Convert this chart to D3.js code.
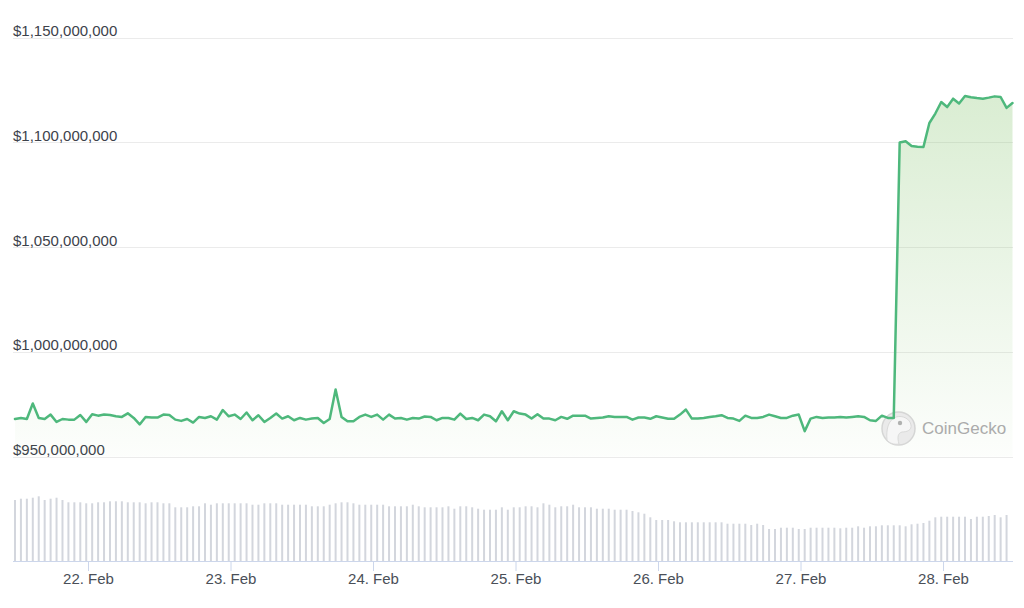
<!DOCTYPE html>
<html>
<head>
<meta charset="utf-8">
<script src="https://cdn.jsdelivr.net/npm/d3@7/dist/d3.min.js"></script>
<style>
  html, body { margin: 0; padding: 0; background: #ffffff; }
  svg { display: block; font-family: "Liberation Sans", Arial, Helvetica, sans-serif; }
</style>
</head>
<body>
<svg id="chart" width="1024" height="608"></svg>
<script>
// ---------- DATA ----------
// hourly series start (UTC)
const startTime = Date.UTC(2024, 1, 21, 11, 42);
const hourMs = 3600 * 1000;

// market cap, millions of USD (hourly)
const marketCapM = [
  967.9, 968.4, 967.9, 975.3, 968.4, 967.9, 970.0, 966.5, 967.9, 967.6,
  967.6, 969.8, 966.5, 970.2, 969.5, 970.0, 969.8, 969.2, 968.9, 970.6,
  968.4, 965.3, 968.9, 968.6, 968.6, 970.0, 969.8, 967.6, 967.0, 967.9,
  966.2, 968.9, 968.4, 969.2, 967.6, 972.2, 969.2, 970.0, 967.9, 971.0,
  967.3, 969.7, 966.5, 968.4, 970.5, 968.1, 969.2, 967.3, 968.4, 967.6,
  968.1, 968.4, 966.0, 967.9, 982.0, 968.9, 966.8, 966.8, 968.9, 970.0,
  968.9, 970.0, 967.6, 970.0, 968.1, 968.4, 967.6, 968.4, 968.1, 969.1,
  968.9, 967.3, 968.4, 968.4, 967.6, 970.5, 967.9, 968.4, 967.3, 970.0,
  969.2, 966.8, 971.6, 967.3, 971.6, 970.5, 970.0, 968.1, 970.2, 968.1,
  968.1, 967.3, 968.9, 968.0, 969.5, 969.5, 969.5, 968.1, 968.4, 968.6,
  969.2, 968.9, 968.9, 968.9, 967.6, 968.6, 968.6, 968.0, 969.2, 968.6,
  968.0, 968.0, 970.0, 972.4, 968.1, 968.1, 968.4, 968.9, 969.2, 969.7,
  968.4, 968.1, 967.0, 969.5, 968.4, 968.4, 968.9, 970.0, 969.2, 968.4,
  968.4, 969.5, 970.0, 962.1, 968.1, 968.9, 968.4, 968.6, 968.6, 968.9,
  968.6, 968.9, 969.2, 968.9, 967.3, 967.0, 969.5, 968.4, 968.4, 1099.9,
  1100.5, 1098.2, 1097.9, 1097.7, 1109.2, 1113.7, 1119.2, 1116.8, 1120.8, 1118.5,
  1122.1, 1121.5, 1121.1, 1120.8, 1121.3, 1121.9, 1121.6, 1116.4, 1118.7
];

// trading volume, millions of USD (hourly)
const volumeM = [
  61.0, 62.3, 62.3, 63.3, 64.7, 61.0, 62.3, 63.3, 61.0, 58.7,
  58.7, 58.7, 57.7, 57.7, 58.7, 58.7, 59.7, 59.7, 59.7, 58.7,
  58.7, 58.7, 57.7, 58.7, 58.7, 57.7, 57.7, 53.7, 53.7, 53.7,
  54.7, 54.7, 57.7, 56.3, 57.7, 57.7, 57.7, 57.7, 57.7, 57.7,
  56.3, 56.3, 57.7, 57.7, 57.7, 56.3, 56.3, 56.3, 56.3, 56.3,
  54.7, 54.7, 54.7, 56.3, 57.7, 58.7, 58.7, 57.7, 56.3, 56.3,
  56.3, 56.3, 56.3, 54.7, 54.7, 54.7, 54.7, 56.3, 54.7, 53.7,
  53.7, 53.7, 53.7, 54.7, 52.3, 54.7, 54.7, 53.7, 52.3, 51.3,
  51.3, 51.3, 53.7, 51.3, 53.7, 53.7, 54.7, 54.7, 53.7, 57.7,
  56.3, 53.7, 54.7, 54.7, 56.3, 53.7, 53.7, 53.7, 52.3, 52.3,
  52.3, 51.3, 51.3, 51.3, 50.0, 48.7, 47.3, 43.7, 41.0, 41.0,
  41.0, 39.7, 38.7, 38.7, 38.7, 38.7, 38.7, 38.7, 38.7, 38.7,
  37.3, 37.3, 37.3, 37.3, 36.0, 37.3, 36.0, 32.0, 32.0, 33.3,
  33.3, 33.3, 32.0, 32.0, 33.3, 33.3, 33.3, 33.3, 33.3, 32.7,
  33.3, 33.3, 34.7, 33.3, 34.7, 34.7, 35.7, 35.7, 35.7, 35.7,
  34.7, 36.7, 37.3, 38.0, 40.3, 43.7, 44.3, 44.3, 44.3, 44.3,
  44.3, 42.0, 44.3, 44.3, 45.0, 46.0, 43.7, 46.0
];

const yTickValues = [950e6, 1000e6, 1050e6, 1100e6, 1150e6];
const yTickLabels = ["$950,000,000", "$1,000,000,000", "$1,050,000,000", "$1,100,000,000", "$1,150,000,000"];
const xTickDates = [
  Date.UTC(2024, 1, 22), Date.UTC(2024, 1, 23), Date.UTC(2024, 1, 24),
  Date.UTC(2024, 1, 25), Date.UTC(2024, 1, 26), Date.UTC(2024, 1, 27),
  Date.UTC(2024, 1, 28)
];
const xTickLabels = ["22. Feb", "23. Feb", "24. Feb", "25. Feb", "26. Feb", "27. Feb", "28. Feb"];

// ---------- CHART ----------
const svg = d3.select("#chart");
const left = 13, right = 1013;
const priceTop = 37.5, priceBottom = 456.5;
const volBase = 561;

const x = d3.scaleUtc()
  .domain([Date.UTC(2024, 1, 21, 11, 22), Date.UTC(2024, 1, 28, 11, 47)])
  .range([left, right]);
const y = d3.scaleLinear().domain([950e6, 1150e6]).range([priceBottom, priceTop]);
const yVol = d3.scaleLinear().domain([0, 100]).range([volBase, volBase - 100]);

const priceData = marketCapM.map((v, i) => ({ t: startTime + i * hourMs, v: v * 1e6 }));
const volData = volumeM.map((v, i) => ({ t: startTime + i * hourMs, v: v }));

// gradient
const defs = svg.append("defs");
const grad = defs.append("linearGradient")
  .attr("id", "areaGrad")
  .attr("gradientUnits", "userSpaceOnUse")
  .attr("x1", 0).attr("x2", 0)
  .attr("y1", priceTop).attr("y2", priceBottom);
grad.append("stop").attr("offset", "0%").attr("stop-color", "rgb(125,192,100)").attr("stop-opacity", 0.33);
grad.append("stop").attr("offset", "100%").attr("stop-color", "rgb(125,192,100)").attr("stop-opacity", 0.02);

// gridlines
svg.append("g").selectAll("line")
  .data(yTickValues)
  .join("line")
  .attr("x1", left).attr("x2", right)
  .attr("y1", d => Math.round(y(d)) + 0.5)
  .attr("y2", d => Math.round(y(d)) + 0.5)
  .attr("stroke", "#ebebeb")
  .attr("stroke-width", 1);

// y labels
svg.append("g").selectAll("text")
  .data(yTickValues)
  .join("text")
  .attr("x", left)
  .attr("y", d => y(d) - 1.5)
  .attr("font-size", 15)
  .attr("fill", "#3d424b")
  .text((d, i) => yTickLabels[i]);

// area
const area = d3.area()
  .x(d => x(d.t))
  .y0(priceBottom)
  .y1(d => y(d.v));
svg.append("path")
  .datum(priceData)
  .attr("d", area)
  .attr("fill", "url(#areaGrad)");

// watermark
const wm = svg.append("g").attr("opacity", 0.9);
wm.append("circle").attr("cx", 898.5).attr("cy", 428.5).attr("r", 16.5)
  .attr("fill", "#e9e9e9").attr("stroke", "#d2d2d2").attr("stroke-width", 1.5);
wm.append("path")
  .attr("d", "M887,440 C886,430 888,420 896,417 C903,415 910,419 911,425 C912,430 907,432 902,432 C898,433 897,437 899,444 C894,445 889,443 887,440 Z")
  .attr("fill", "#f6f6f6").attr("stroke", "#d6d6d6").attr("stroke-width", 1);
wm.append("circle").attr("cx", 900).attr("cy", 423).attr("r", 2.2).attr("fill", "#a9a9a9");
wm.append("text").attr("x", 922).attr("y", 433.5)
  .attr("font-size", 17).attr("fill", "#a3a3a3").text("CoinGecko");

// line
const line = d3.line().x(d => x(d.t)).y(d => y(d.v));
svg.append("path")
  .datum(priceData)
  .attr("d", line)
  .attr("fill", "none")
  .attr("stroke", "#4eb87c")
  .attr("stroke-width", 2.5)
  .attr("stroke-linejoin", "round")
  .attr("stroke-linecap", "round");

// volume bars
svg.append("g").selectAll("rect")
  .data(volData)
  .join("rect")
  .attr("x", d => x(d.t) - 1)
  .attr("width", 2)
  .attr("y", d => yVol(d.v))
  .attr("height", d => volBase - yVol(d.v))
  .attr("fill", "#d3d6dd");

// x axis
const xAxis = d3.axisBottom(x)
  .tickValues(xTickDates)
  .tickFormat((d, i) => xTickLabels[i])
  .tickSize(10)
  .tickPadding(2.5);
const gx = svg.append("g").attr("transform", `translate(0,${volBase})`).call(xAxis);
gx.select(".domain").remove();
gx.selectAll(".tick line").attr("stroke", "#ccd6eb");
gx.selectAll(".tick text")
  .attr("font-size", 15)
  .attr("font-family", "Liberation Sans, Arial, sans-serif")
  .attr("fill", "#4a4f58");
svg.append("line")
  .attr("x1", left).attr("x2", right)
  .attr("y1", volBase + 0.5).attr("y2", volBase + 0.5)
  .attr("stroke", "#ccd6eb");
</script>
</body>
</html>
